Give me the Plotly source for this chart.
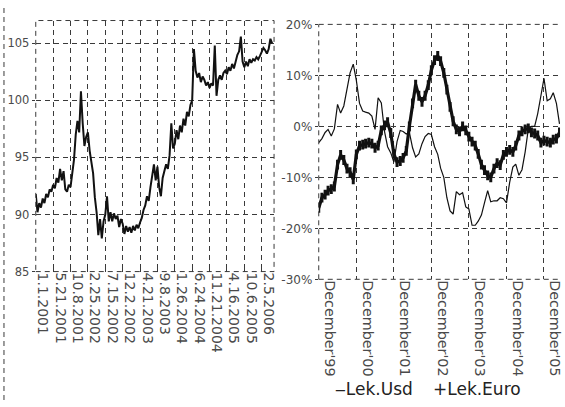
import pandas as pd
import plotly.graph_objects as go

# ---- Left panel: Lek index, one value every 10 trading days ----
lek_index = [
    91.8, 90.2, 91.0, 90.6, 91.4, 91.0, 91.8, 91.5, 92.2, 92.0,
    92.6, 92.3, 93.2, 92.8, 94.0, 93.0, 93.8, 92.2, 92.0, 92.6,
    92.4, 93.6, 94.8, 97.0, 98.2, 97.2, 100.8, 98.0, 96.0, 96.8,
    97.2, 95.6, 94.5, 93.6, 91.5, 90.2, 88.2, 89.6, 87.9, 89.4,
    90.0, 91.6, 89.4, 90.2, 89.4, 90.1, 89.6, 89.9, 88.9, 89.6,
    89.2, 88.3, 89.0, 88.5, 88.9, 88.4, 89.0, 88.6, 89.1, 88.8,
    89.3, 89.7, 90.4, 90.8, 91.6, 91.2, 92.4, 93.4, 94.4, 93.0,
    94.2, 92.4, 91.6, 93.2, 93.8, 94.4, 94.0, 95.2, 98.0, 95.8,
    96.2, 97.4, 96.6, 97.8, 97.2, 98.4, 97.8, 99.0, 98.6, 99.6,
    100.0, 104.5, 102.6, 102.0, 102.4, 101.6, 102.1, 101.8, 101.3, 101.6,
    101.1, 101.5, 101.3, 104.8, 100.4, 101.8, 102.2, 101.8, 102.4, 102.6,
    102.3, 102.9, 102.6, 103.2, 102.8, 103.4, 104.0, 104.3, 105.6, 103.4,
    102.9, 103.4, 103.0, 103.6, 103.3, 103.6, 103.5, 103.8, 103.6, 103.9,
    104.2, 104.6, 104.4, 104.1, 104.5, 105.4, 105.0,
]
obs_step = 10
date_labels = [
    "1.1.2001", "5.21.2001", "10.8.2001", "2.25.2002", "7.15.2002",
    "12.2.2002", "4.21.2003", "9.8.2003", "1.26.2004", "6.24.2004",
    "11.21.2004", "4.16.2005", "10.6.2005", "2.5.2006",
]
label_every = 100
index_ticks = [85, 90, 95, 100, 105]

# ---- Right panel: monthly change of the Lek, in percent ----
months = pd.date_range("1999-12-01", periods=78, freq="MS")
lek_usd = [
    -3.2, -2.4, -1.2, -0.6, -1.9, -0.5, 4.3, 2.6, 4.0, 7.5,
    10.5, 12.2, 9.0, 4.5, 3.0, 2.8, 2.6, 2.0, -0.6, 5.6,
    4.6, -1.0, -4.0, -5.2, -7.0, -3.0, -0.8, -1.0, -1.5, -1.2,
    -4.2, -6.0, -5.4, -3.4, -2.0, -1.4, -1.6, -4.0, -5.5, -8.2,
    -10.0, -14.0, -16.6, -17.2, -12.8, -13.4, -13.0, -15.8, -16.2, -19.4,
    -19.4, -18.6, -17.4, -15.0, -12.6, -14.8, -14.6, -14.6, -14.0, -14.2,
    -15.0, -11.0, -8.0, -7.4, -9.6, -8.5, -5.0, -0.6, 0.0, 0.0,
    2.5, 6.0, 9.4, 5.0, 5.4, 6.6, 4.5, 0.5,
]
lek_euro = [
    -16.0, -14.0, -13.4, -12.6, -12.3, -11.8, -7.5, -5.6, -6.6, -8.3,
    -9.0, -10.4, -5.5, -3.8, -3.6, -3.4, -3.2, -3.4, -4.2, -3.8,
    -0.8, 0.2, 0.8, -1.3, -5.4, -7.0, -6.8, -6.2, -4.8, 0.0,
    4.5, 8.2, 6.0, 4.8, 6.0, 8.1, 11.0, 13.0, 13.8, 12.8,
    10.5, 7.2, 3.8, 1.0, -0.6, -1.0, 0.0, -0.8, -2.0, -3.0,
    -3.8, -5.4, -7.5, -8.6, -9.6, -10.0, -8.3, -7.2, -7.6, -5.6,
    -5.0, -4.6, -5.0, -3.8, -1.8, -1.0, -0.6, -0.4, -1.2, -1.4,
    -1.8, -3.2, -2.8, -3.0, -3.2, -2.6, -2.4, -1.2,
]
pct_ticks = [-30, -20, -10, 0, 10, 20]
pct_labels = ["-30%", "-20%", "-10%", "0%", "10%", "20%"]
year_ticks = pd.date_range("1999-12-01", periods=7, freq="12MS")
year_labels = ["December'99", "December'00", "December'01", "December'02",
               "December'03", "December'04", "December'05"]
series_names = ["Lek.Usd", "Lek.Euro"]

FONT = "DejaVu Sans"
TICK_COLOR = "#4a4a4a"
INK = "#111111"
GRID = dict(showgrid=True, gridcolor="#3a3a3a", gridwidth=1, griddash="5px,4px",
            zeroline=False, showline=False)

fig = go.Figure()

fig.add_trace(go.Scatter(
    x=[i * obs_step for i in range(len(lek_index))], y=lek_index,
    mode="lines", line=dict(color=INK, width=2),
    showlegend=False, xaxis="x", yaxis="y",
))
fig.add_trace(go.Scatter(
    x=months, y=lek_usd, name=series_names[0], mode="lines",
    line=dict(color=INK, width=1.2), showlegend=False,
    xaxis="x2", yaxis="y2",
))
fig.add_trace(go.Scatter(
    x=months, y=lek_euro, name=series_names[1], mode="lines+markers",
    line=dict(color=INK, width=3.2),
    marker=dict(symbol="line-ns-open", size=7, color=INK,
                line=dict(color=INK, width=3)),
    showlegend=False, xaxis="x2", yaxis="y2",
))

fig.update_layout(
    width=565, height=407,
    margin=dict(l=0, r=0, t=0, b=0),
    paper_bgcolor="white", plot_bgcolor="white",
    font=dict(family=FONT, color="#222222"),
    xaxis=dict(
        domain=[35 / 565, 275 / 565], range=[0, 1371],
        tickvals=[i * label_every for i in range(len(date_labels))],
        ticktext=date_labels, tickangle=90, ticklabelshift=7,
        ticks="inside", ticklen=3, tickcolor="#3a3a3a",
        tickfont=dict(family=FONT, size=14, color=TICK_COLOR),
        anchor="y", **GRID,
    ),
    yaxis=dict(
        domain=[(407 - 274) / 407, (407 - 14) / 407], range=[85, 107],
        tickvals=index_ticks, ticks="outside", ticklen=3, tickcolor="#3a3a3a",
        tickfont=dict(family=FONT, size=11.5, color=TICK_COLOR),
        anchor="x", **GRID,
    ),
    xaxis2=dict(
        domain=[320 / 565, 563 / 565], type="date",
        range=["1999-12-01", "2006-05-06"],
        tickvals=list(year_ticks), ticktext=year_labels,
        tickangle=90, ticklabelshift=11,
        ticks="inside", ticklen=3, tickcolor="#3a3a3a",
        tickfont=dict(family=FONT, size=14.3, color=TICK_COLOR),
        anchor="y2", **GRID,
    ),
    yaxis2=dict(
        domain=[(407 - 282) / 407, (407 - 18) / 407], range=[-30, 20],
        tickvals=pct_ticks, ticktext=pct_labels,
        ticks="outside", ticklen=3, tickcolor="#3a3a3a",
        tickfont=dict(family=FONT, size=12, color=TICK_COLOR),
        anchor="x2", **GRID,
    ),
)

# compact key under the right panel: short dash for the USD line, cross for the Euro line
for name, glyph, x in [(series_names[0], "\u2012", 334), (series_names[1], "+", 433)]:
    fig.add_annotation(
        text=glyph + name, xref="paper", yref="paper",
        x=x / 565, y=(407 - 396) / 407, xanchor="left", yanchor="middle",
        showarrow=False, font=dict(family=FONT, size=17, color="#222222"),
    )

dash = dict(color="#3a3a3a", width=1, dash="5px,4px")
# dashed frame round the left panel
fig.add_shape(type="rect", xref="x domain", yref="y domain",
              x0=0, x1=1, y0=0, y1=1, line=dash)
# left, top and bottom edges of the right panel
for x0, y0, x1, y1 in [(0, 0, 0, 1), (0, 1, 1, 1), (0, 0, 1, 0)]:
    fig.add_shape(type="line", xref="x2 domain", yref="y2 domain",
                  x0=x0, y0=y0, x1=x1, y1=y1, line=dash)
# dashed rule down the left side of the page
fig.add_shape(type="line", xref="paper", yref="paper",
              x0=3 / 565, x1=3 / 565, y0=0, y1=1, line=dash)

fig.write_html("out.html")
